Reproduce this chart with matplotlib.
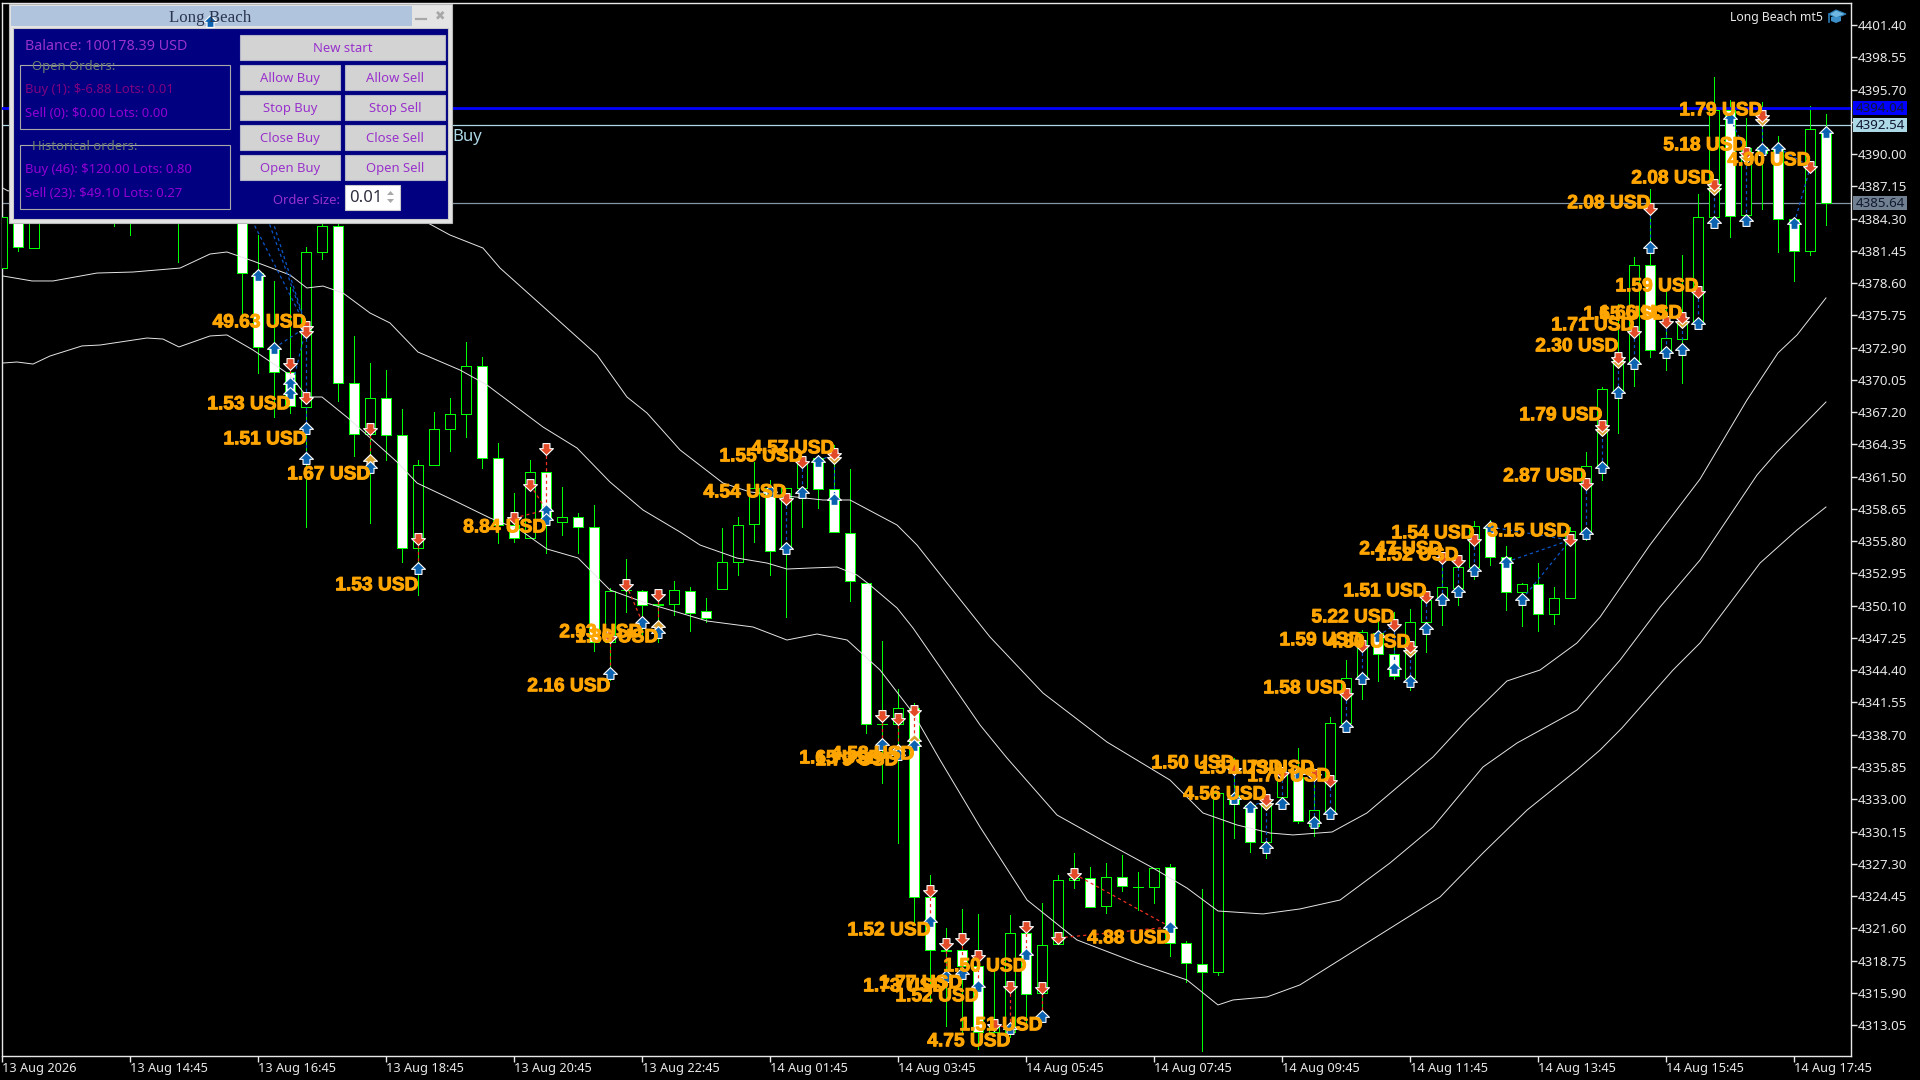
import matplotlib
matplotlib.use("Agg")
import matplotlib.pyplot as plt
import matplotlib.patheffects as pe
from matplotlib.patches import Rectangle, Polygon
from matplotlib.path import Path
from matplotlib.transforms import blended_transform_factory

# candles, 15 min bars, the ones from 3 to 14 sit behind the panel
opens = [4379.93,4386.0,4381.70,4388.0,4387.0,4388.5,4390.0,4391.0,4389.5,4390.5,4392.0,4391.5,4394.0,4398.0,4396.0,
 4392.0,4379.49,4372.78,4370.75,4367.65,4381.35,4383.65,4369.77,4365.27,4368.45,4365.18,4355.20,4362.53,4365.71,4367.04,
 4371.28,4363.15,4357.23,4356.08,4361.91,4357.50,4357.94,4357.05,4346.89,4351.49,4351.40,4350.16,4350.25,4351.40,4349.63,
 4351.58,4353.96,4357.32,4360.50,4355.20,4360.50,4363.15,4360.41,4356.52,4352.11,4339.65,4339.65,4341.07,4324.37,4319.69,
 4319.69,4318.27,4312.44,4312.44,4321.19,4315.88,4320.22,4325.87,4326.05,4323.57,4326.13,4325.25,4325.25,4327.02,4320.30,
 4318.45,4317.74,4333.38,4332.50,4329.23,4333.20,4334.97,4330.64,4331.97,4339.74,4343.72,4347.69,4345.84,4343.72,4348.66,
 4350.60,4351.67,4353.52,4357.05,4354.40,4351.31,4352.02,4349.37,4350.78,4356.61,4362.36,4369.16,4371.72,4380.20,4372.43,
 4373.66,4374.99,4384.44,4393.89,4384.62,4390.62,4390.54,4384.26,4381.44,4391.95]
highs = [4385.06,4386.5,4387.5,4389.0,4389.5,4390.0,4391.0,4392.0,4391.0,4392.0,4393.0,4393.0,4395.0,4402.0,4397.0,
 4393.0,4382.85,4378.79,4378.26,4381.79,4384.18,4384.00,4373.93,4371.54,4370.92,4367.48,4362.97,4367.21,4368.45,4373.40,
 4372.07,4364.48,4360.06,4362.97,4361.91,4360.59,4358.29,4358.99,4351.66,4354.23,4351.49,4350.60,4352.28,4351.75,4350.78,
 4356.97,4357.94,4362.80,4361.20,4360.50,4363.15,4363.42,4364.30,4362.18,4352.11,4346.98,4342.74,4341.50,4326.31,4321.63,
 4323.31,4322.87,4317.92,4322.78,4322.07,4323.84,4326.31,4328.26,4327.02,4327.37,4328.08,4326.58,4326.93,4327.28,4320.48,
 4325.08,4333.55,4336.65,4332.50,4332.76,4335.76,4337.53,4335.32,4340.27,4345.30,4347.95,4348.66,4349.55,4349.81,4351.22,
 4354.32,4354.32,4357.58,4357.67,4355.38,4352.11,4353.88,4351.75,4357.05,4363.68,4369.42,4376.75,4380.91,4386.91,4377.81,
 4381.08,4386.47,4396.81,4394.78,4393.19,4394.60,4391.60,4384.26,4394.25,4393.54]
lows = [4379.93,4381.44,4381.70,4386.0,4385.5,4386.5,4387.5,4383.65,4382.85,4388.0,4389.0,4380.46,4391.0,4395.0,4391.0,
 4375.61,4370.66,4366.77,4367.13,4357.05,4380.73,4368.18,4363.33,4357.41,4362.97,4353.96,4351.05,4362.53,4363.77,4365.00,
 4362.27,4355.64,4355.73,4356.08,4354.76,4356.35,4354.76,4346.10,4343.54,4349.55,4347.07,4346.89,4349.28,4347.87,4348.66,
 4351.58,4352.81,4355.73,4352.81,4349.10,4357.05,4358.73,4356.61,4350.52,4338.86,4334.44,4329.14,4322.07,4315.09,4312.97,
 4312.35,4310.94,4312.44,4312.00,4313.24,4314.12,4320.22,4325.16,4323.48,4322.96,4324.90,4323.22,4323.84,4319.16,4316.86,
 4310.76,4317.48,4329.58,4328.35,4327.81,4332.32,4330.91,4329.76,4331.26,4339.03,4341.86,4343.45,4343.63,4342.65,4346.01,
 4348.40,4350.16,4352.46,4353.70,4349.72,4348.31,4347.87,4348.49,4350.78,4355.91,4361.21,4365.36,4369.51,4372.07,4370.92,
 4369.77,4374.72,4383.91,4382.67,4383.91,4385.15,4381.35,4378.79,4381.08,4383.73]
closes = [4384.44,4381.79,4386.83,4387.4,4388.5,4390.0,4391.0,4389.5,4390.5,4392.0,4391.5,4394.0,4398.0,4396.0,4392.0,
 4379.49,4372.96,4370.75,4367.74,4381.35,4383.65,4369.77,4365.27,4368.45,4365.18,4355.20,4362.53,4365.71,4367.04,4371.28,
 4363.15,4357.23,4356.08,4361.91,4357.67,4357.94,4357.05,4346.89,4351.40,4351.45,4350.16,4350.25,4351.49,4349.46,4349.01,
 4353.96,4357.23,4360.50,4354.93,4360.50,4362.80,4360.41,4356.61,4352.28,4339.65,4339.61,4341.07,4324.37,4319.69,4319.64,
 4318.27,4312.44,4312.97,4321.19,4315.80,4320.13,4325.87,4326.05,4323.48,4326.13,4325.34,4325.29,4326.93,4320.30,4318.54,
 4317.74,4333.55,4332.58,4329.23,4332.50,4335.23,4331.08,4332.05,4339.74,4343.72,4347.78,4345.84,4343.89,4348.66,4350.60,
 4351.75,4353.52,4357.14,4354.40,4351.31,4352.02,4349.37,4350.78,4356.70,4362.44,4369.25,4371.81,4380.20,4372.69,4373.75,
 4374.99,4384.44,4393.89,4384.53,4390.54,4390.09,4384.26,4381.44,4392.21,4385.68]

# three bands (bar position, price)
upper_x = [0.04,0.36,12.36,21.73,26.6,27.98,30.04,31.11,34.04,37.17,39.04,40.29,42.36,45.04,46.73,51.29,52.98,55.92,57.17,59.04,61.73,
 65.04,69.04,72.98,75.04,77.17,79.23,80.67,83.11,85.29,89.42,91.55,94.04,96.11,98.42,99.86,102.98,106.11,109.04,110.98,112.17,113.98]
upper_y = [4386.99,4386.74,4390.36,4386.38,4383.91,4382.85,4381.70,4379.93,4376.22,4372.25,4368.54,4367.13,4363.86,4360.94,4360.15,4359.44,4359.44,4357.23,4355.46,4352.11,4347.34,
 4342.39,4338.06,4334.70,4331.79,4330.73,4330.02,4329.85,4330.11,4331.79,4336.74,4340.00,4343.45,4344.42,4346.81,4349.10,4355.47,4361.29,4368.27,4372.43,4374.02,4377.29]
middle_x = [0.04,1.86,3.17,5.92,8.17,11.11,12.98,14.04,15.67,17.98,19.04,20.04,21.29,22.98,24.23,25.98,28.61,30.29,33.79,35.92,37.98,40.04,42.36,43.61,45.92,47.79,49.04,50.48,52.17,53.42,54.23,55.92,56.92,
 59.04,61.11,62.79,65.92,69.04,71.92,74.04,75.98,78.79,81.10,83.61,86.73,89.42,92.54,94.67,98.42,99.86,101.11,103.61,106.11,109.67,110.92,113.98]
middle_y = [4379.23,4378.79,4378.79,4379.49,4379.58,4379.93,4381.17,4381.35,4380.55,4379.32,4378.17,4378.34,4377.73,4375.96,4375.08,4372.51,4370.92,4369.60,4365.89,4364.03,4361.03,4358.56,4356.61,4355.46,4354.31,4353.87,4353.34,4353.43,4353.52,4352.81,4351.93,4349.90,4348.13,
 4343.80,4339.56,4336.65,4331.61,4329.14,4326.93,4325.16,4323.13,4322.87,4323.31,4324.10,4327.37,4330.55,4335.85,4337.97,4340.89,4343.27,4345.30,4349.98,4354.14,4361.65,4363.68,4368.10]
lower_x = [0.04,0.92,1.92,2.98,4.98,6.11,9.04,10.04,11.04,12.98,14.04,15.67,17.98,19.04,19.98,21.61,24.67,25.92,28.17,30.48,32.36,34.04,35.98,37.98,40.04,42.36,44.04,46.92,49.04,50.92,52.80,54.86,56.92,58.61,
 61.11,64.05,67.17,70.92,74.04,75.98,76.92,79.05,81.10,89.86,92.54,95.30,98.42,99.86,101.23,104.42,106.11,109.86,112.17,113.98]
lower_y = [4371.54,4371.63,4371.45,4372.16,4373.05,4373.13,4373.75,4373.66,4372.96,4373.93,4374.02,4372.69,4370.48,4368.54,4368.54,4366.68,4362.80,4360.94,4359.44,4357.85,4356.79,4355.11,4354.32,4351.49,4350.43,4349.46,4348.75,4348.22,4347.07,4347.60,4347.07,4344.42,4340.62,4336.47,
 4330.55,4324.10,4320.57,4318.54,4317.04,4314.83,4315.27,4315.54,4316.60,4324.37,4328.25,4332.05,4335.59,4337.35,4339.30,4344.42,4346.81,4353.87,4356.79,4358.82]

# arrows
buy_k = [16,17,18,18,19,19,23,26,34,34,38,40,41,48,49,50,51,52,55,56,57,58,59,60,61,63,64,65,73,77,78,79,80,81,82,83,84,85,86,87,88,89,90,91,92,93,94,95,99,100,101,102,103,104,105,106,107,108,109,110,111,112,114]
buy_p = [4379.31,4372.87,4369.77,4368.89,4365.80,4363.15,4362.36,4353.43,4358.56,4357.76,4344.16,4348.66,4347.78,4360.23,4355.20,4360.15,4362.88,4359.53,4337.88,4336.99,4337.79,4322.25,4317.39,4317.65,4316.51,4312.80,4319.33,4313.85,4321.72,4333.11,4332.32,4328.79,4332.67,4335.32,4330.99,4331.79,4339.47,4343.72,4347.42,4344.60,4343.45,4348.13,4350.69,4351.40,4353.25,4357.05,4353.96,4350.69,4356.52,4362.36,4368.98,4371.54,4381.79,4372.51,4372.78,4375.08,4384.00,4393.19,4384.17,4390.45,4390.54,4383.91,4391.95]
sell_k = [18,19,19,19,23,26,32,33,34,38,39,41,49,50,52,55,56,57,58,59,60,61,62,63,64,65,66,67,77,79,80,82,83,84,85,87,88,89,90,91,92,98,99,100,101,102,103,104,105,106,107,109,110,113]
sell_p = [4371.45,4374.72,4374.28,4368.45,4365.71,4355.99,4357.85,4360.76,4363.94,4347.34,4351.93,4351.05,4359.53,4362.80,4363.50,4340.36,4340.09,4340.80,4324.90,4320.21,4320.66,4319.16,4313.06,4316.42,4321.72,4316.33,4320.75,4326.40,4335.68,4332.94,4335.32,4335.15,4334.62,4342.30,4346.54,4348.40,4346.45,4350.87,4354.32,4354.05,4355.90,4355.90,4360.85,4365.98,4371.98,4374.28,4385.15,4375.16,4375.52,4377.81,4387.27,4390.09,4393.36,4388.86]
gold_up_k = [23,41,56,57]
gold_up_p = [4362.97,4348.31,4337.35,4338.24]
gold_down_k = [52,79,88,100,101,105,107,109,110]
gold_down_p = [4363.15,4332.59,4346.10,4365.63,4371.63,4375.17,4386.92,4389.74,4393.01]
title_arrow_k = 13
title_arrow_p = 4401.75

# trade lines (k0, p0, k1, p1)
blue_trades = [(19,4374.28,19,4363.15),(49,4359.53,49,4355.20),(50,4362.80,50,4360.15),(52,4363.50,52,4359.53),(77,4335.68,77,4333.11),
 (79,4332.94,79,4328.79),(80,4335.32,80,4332.67),(82,4335.15,82,4330.99),(83,4334.62,83,4331.79),(84,4342.30,84,4339.47),(85,4346.54,85,4343.72),
 (87,4348.40,87,4344.60),(88,4346.45,88,4343.45),(89,4350.87,89,4348.13),(90,4354.32,90,4350.69),(91,4354.05,91,4351.40),(92,4355.90,92,4353.25),
 (99,4360.85,99,4356.52),(100,4365.98,100,4362.36),(101,4371.98,101,4368.98),(102,4374.28,102,4371.54),(103,4385.15,103,4381.79),(104,4375.16,104,4372.51),
 (105,4375.52,105,4372.78),(106,4377.81,106,4375.08),(107,4387.27,107,4384.00),(109,4390.09,109,4384.17),(110,4393.36,110,4390.45),
 (78,4332.32,79,4332.94),(86,4347.42,87,4348.40),(93,4357.05,98,4355.90),(94,4353.96,98,4355.90),(95,4350.69,98,4355.90),(108,4393.19,109,4390.09),
 (111,4390.54,113,4388.86),(112,4383.91,113,4388.86),(17,4372.87,19,4374.72),(14,4388.59,19,4374.72),(15,4390.54,19,4374.72),(15,4392.57,19,4374.72),
 (18,4368.89,19,4374.72),(51,4362.88,52,4363.50)]
red_trades = [(18,4371.45,18,4368.89),(23,4365.71,23,4362.36),(26,4355.99,26,4353.43),(34,4363.94,34,4358.56),(38,4347.34,38,4344.16),(41,4351.05,41,4347.78),
 (55,4340.36,55,4337.88),(56,4340.09,56,4336.99),(57,4340.80,57,4337.79),(58,4324.90,58,4322.25),(59,4320.21,59,4317.39),(60,4320.66,60,4317.65),
 (61,4319.16,61,4316.51),(63,4316.42,63,4312.80),(64,4321.72,64,4319.33),(65,4316.33,65,4313.85),(39,4351.93,40,4348.66),(33,4360.76,34,4358.56),
 (32,4357.85,34,4358.56),(66,4320.75,73,4321.72),(67,4326.40,73,4321.72),(62,4313.06,63,4312.80)]

# profit labels
label_text = ["49.63 USD","1.53 USD","1.51 USD","1.67 USD","8.84 USD","1.53 USD","2.93 USD","1.36 USD","2.16 USD","4.57 USD","1.55 USD","4.54 USD",
 "1.65 USD","1.79 USD","4.58 USD","1.52 USD","1.50 USD","1.77 USD","1.73 USD","1.52 USD","1.51 USD","4.75 USD","4.88 USD","1.50 USD","1.57 USD","1.73 USD","1.70 USD","4.56 USD",
 "1.58 USD","1.59 USD","4.80 USD","5.22 USD","1.51 USD","1.52 USD","2.47 USD","1.54 USD","3.15 USD","2.87 USD","1.79 USD","2.30 USD","1.71 USD","1.65 USD","1.66 USD","1.59 USD",
 "2.08 USD","2.08 USD","5.18 USD","4.90 USD","1.79 USD"]
label_k = [19,18,19,23,34,26,40,41,38,52,50,49,55,56,57,58,64,60,59,61,65,63,73,77,80,82,83,79,84,85,88,87,89,91,90,92,98,99,100,101,102,104,105,106,103,107,109,113,110]
label_p = [4375.09,4367.85,4364.76,4361.66,4356.98,4351.86,4347.71,4347.27,4342.94,4363.96,4363.25,4360.07,4336.57,4336.40,4336.93,4321.38,4318.20,4316.70,4316.43,4315.55,4312.99,4311.58,4320.68,
 4336.13,4335.69,4335.69,4334.99,4333.39,4342.76,4347.00,4346.82,4349.03,4351.33,4354.51,4355.04,4356.45,4356.63,4361.49,4366.88,4372.97,4374.83,4375.80,4375.89,4378.27,4385.61,4387.81,4390.73,4389.40,4393.82]

price_ticks = [4401.40,4398.55,4395.70,4392.85,4390.00,4387.15,4384.30,4381.45,4378.60,4375.75,4372.90,4370.05,4367.20,4364.35,4361.50,4358.65,
 4355.80,4352.95,4350.10,4347.25,4344.40,4341.55,4338.70,4335.85,4333.00,4330.15,4327.30,4324.45,4321.60,4318.75,4315.90,4313.05]
time_ticks = [0,8,16,24,32,40,48,56,64,72,80,88,96,104,112]
time_labels = ["13 Aug 2026","13 Aug 14:45","13 Aug 16:45","13 Aug 18:45","13 Aug 20:45","13 Aug 22:45","14 Aug 01:45","14 Aug 03:45",
 "14 Aug 05:45","14 Aug 07:45","14 Aug 09:45","14 Aug 11:45","14 Aug 13:45","14 Aug 15:45","14 Aug 17:45"]
level_prices = [4385.64,4392.54,4394.04]
level_colors = ["#8496A6","#ADD8E6","#0000FF"]
tag_colors = ["#708090","#ADD8E6","#0000FF"]

UP_ARROW = Path([(0,0.85),(1,-0.12),(0.5,-0.12),(0.5,-0.85),(-0.5,-0.85),(-0.5,-0.12),(-1,-0.12),(0,0.85)], closed=True)
DOWN_ARROW = Path([(0,-0.85),(1,0.12),(0.5,0.12),(0.5,0.85),(-0.5,0.85),(-0.5,0.12),(-1,0.12),(0,-0.85)], closed=True)
GREEN = "#00FF00"
LABEL_FONT = ["Liberation Sans", "DejaVu Sans"]
UI_FONT = ["Noto Sans", "DejaVu Sans"]

fig = plt.figure(figsize=(19.2, 10.8), dpi=100, facecolor="black")
ax = fig.add_axes([2.3/1920, 1-1056/1080, (1850.7-2.3)/1920, (1056-2.5)/1080])
ax.set_facecolor("black")
ax.set_xlim(0, 115.525)
ax.set_ylim(4310.32, 4403.39)

for s in ax.spines.values():
    s.set_color("#E8E8E8")
    s.set_linewidth(1)

# candles
xs = list(range(len(opens)))
ax.vlines(xs, lows, highs, color=GREEN, lw=0.5, antialiased=False, zorder=2)
body_low = [min(o, c) for o, c in zip(opens, closes)]
body_h = [abs(o-c) for o, c in zip(opens, closes)]
body_col = ["white" if c < o else "black" for o, c in zip(opens, closes)]
ax.bar(xs, body_h, bottom=body_low, width=0.625, color=body_col, edgecolor=GREEN, linewidth=0.5, antialiased=False, zorder=3)

# bands
for bx, by in ((upper_x, upper_y), (middle_x, middle_y), (lower_x, lower_y)):
    ax.plot(bx, by, color="#E6E6E6", lw=0.7, zorder=4)

# levels
for p, col in zip(level_prices, level_colors):
    ax.axhline(p, color=col, lw=2.0 if col == "#0000FF" else 0.9, zorder=1 if col != "#0000FF" else 4)

# trades
for t in blue_trades:
    ax.plot([t[0], t[2]], [t[1], t[3]], color="#0B55C8", lw=0.9, ls=(0, (2.5, 2.5)), zorder=5)
for t in red_trades:
    ax.plot([t[0], t[2]], [t[1], t[3]], color="#F03020", lw=0.9, ls=(0, (2.5, 2.5)), zorder=5)

# arrows
ax.plot(gold_up_k, gold_up_p, ls="", marker=UP_ARROW, ms=10, mfc="#D9A030", mec="white", mew=0.8, zorder=6)
ax.plot(gold_down_k, gold_down_p, ls="", marker=DOWN_ARROW, ms=10, mfc="#D9A030", mec="white", mew=0.8, zorder=6)
ax.plot(buy_k, buy_p, ls="", marker=UP_ARROW, ms=10, mfc="#0B62B0", mec="white", mew=0.8, zorder=7)
ax.plot(sell_k, sell_p, ls="", marker=DOWN_ARROW, ms=10, mfc="#E24A28", mec="white", mew=0.8, zorder=7)

# profit text, stroked a little to get the heavy look of the terminal font
for txt, k, p in zip(label_text, label_k, label_p):
    ax.text(k, p, txt, color="#FFA500", fontsize=13.8, fontweight="bold", family=LABEL_FONT,
            ha="right", va="center", zorder=8,
            path_effects=[pe.withStroke(linewidth=0.7, foreground="#FFA500")])

ax.text(28.1, 4391.5, "Buy", color="#ADD8E6", fontsize=12, family=UI_FONT, ha="left", va="center", zorder=8)

# axes
ax.yaxis.tick_right()
ax.set_yticks(price_ticks)
ax.set_yticklabels(["%.2f" % v for v in price_ticks], family=UI_FONT)
ax.set_xticks(time_ticks)
ax.set_xticklabels(time_labels, family=UI_FONT, ha="left")
ax.tick_params(axis="y", colors="#E8E8E8", length=4, width=1, pad=1, labelsize=9.6)
ax.tick_params(axis="x", colors="#E8E8E8", length=4, width=1, pad=0.5, labelsize=9.2)

# overlay in pixels for the panel and tags
over = fig.add_axes([0, 0, 1, 1], zorder=5)
over.set_xlim(0, 1920)
over.set_ylim(1080, 0)
over.axis("off")


def box(x0, y0, x1, y1, fc, ec="none", lw=0.8):
    over.add_patch(Rectangle((x0, y0), x1-x0, y1-y0, facecolor=fc, edgecolor=ec, linewidth=lw))


# price tags on the scale
blend = blended_transform_factory(over.transData, ax.transData)
for p, col in zip(level_prices, tag_colors):
    over.add_patch(Rectangle((1853, p-0.62), 54, 1.24, facecolor=col, edgecolor="none", transform=blend))
    over.text(1880, p, "%.2f" % p, color="#101830", fontsize=9.6, family=UI_FONT, ha="center", va="center", transform=blend)

# top right name
over.text(1823, 17, "Long Beach mt5", color="#E8E8E8", fontsize=8.8, family=UI_FONT, ha="right", va="center")
over.add_patch(Polygon([(1829, 14), (1836, 10), (1846, 14), (1836, 18)], closed=True, facecolor="#6FB6E0", edgecolor="#2C7FB8", lw=0.8))
over.add_patch(Polygon([(1831, 17), (1841, 17), (1841, 21), (1836, 23), (1831, 21)], closed=True, facecolor="#3D8FC8", edgecolor="none"))
over.plot([1829, 1829], [14, 22], color="#2C7FB8", lw=1.2)

# panel
box(9, 4, 452, 223, "#E4E4E4", ec="#B8B8B8")
box(11, 6, 412, 26, "#B0C4DE")
box(13, 28, 448, 219, "#000080", ec="#C8C8C8")
over.text(210, 18, "Long Beach", color="#2A3550", fontsize=12.2, family=["Liberation Serif", "DejaVu Serif"], ha="center", va="center")
over.plot([416, 426], [19, 19], color="#A8A8A8", lw=1.6)
over.text(440, 16, "\u2716", color="#A8A8A8", fontsize=9, family="DejaVu Sans", ha="center", va="center")
over.plot(title_arrow_k, title_arrow_p, ls="", marker=UP_ARROW, ms=10, mfc="#0B62B0", mec="white", mew=0.8, transform=ax.transData, clip_on=False)

PURPLE = "#9932CC"
box(20, 65, 229.5, 129, "none", ec="#A8A8A8")
box(20, 145, 229.5, 209, "none", ec="#A8A8A8")
over.text(25, 47, "Balance: 100178.39 USD", color=PURPLE, fontsize=10.3, family=UI_FONT, va="center")
over.text(32, 66.5, "Open Orders:", color="#708070", fontsize=9.4, family=UI_FONT, va="center")
over.text(32, 146.5, "Historical orders:", color="#708070", fontsize=9.4, family=UI_FONT, va="center")
over.text(25, 89, "Buy (1): $-6.88 Lots: 0.01", color="#800080", fontsize=9.4, family=UI_FONT, va="center")
over.text(25, 113.5, "Sell (0): $0.00 Lots: 0.00", color="#9400D3", fontsize=9.4, family=UI_FONT, va="center")
over.text(25, 169, "Buy (46): $120.00 Lots: 0.80", color="#9400D3", fontsize=9.4, family=UI_FONT, va="center")
over.text(25, 193.5, "Sell (23): $49.10 Lots: 0.27", color="#9400D3", fontsize=9.4, family=UI_FONT, va="center")

buttons = [("New start", 240, 35, 445, 60), ("Allow Buy", 240, 65, 340, 90), ("Allow Sell", 345, 65, 445, 90),
           ("Stop Buy", 240, 95, 340, 120), ("Stop Sell", 345, 95, 445, 120), ("Close Buy", 240, 125, 340, 150),
           ("Close Sell", 345, 125, 445, 150), ("Open Buy", 240, 155, 340, 180), ("Open Sell", 345, 155, 445, 180)]
for name, x0, y0, x1, y1 in buttons:
    box(x0, y0, x1, y1, "#D3D3D3", ec="#B4B4C8")
    over.text((x0+x1)/2, (y0+y1)/2+1, name, color=PURPLE, fontsize=9.4, family=UI_FONT, ha="center", va="center")

over.text(340, 200, "Order Size:", color=PURPLE, fontsize=9.3, family=UI_FONT, ha="right", va="center")
box(345, 185, 399.5, 209.5, "white", ec="#C8C8C8")
over.text(349, 198, "0.01", color="#303040", fontsize=12, family=UI_FONT, va="center")
over.add_patch(Polygon([(387, 195), (394, 195), (390.5, 191)], closed=True, facecolor="#A8A8A8", edgecolor="none"))
over.add_patch(Polygon([(387, 199), (394, 199), (390.5, 203)], closed=True, facecolor="#A8A8A8", edgecolor="none"))

fig.savefig("out.png", dpi=100, facecolor="black")
